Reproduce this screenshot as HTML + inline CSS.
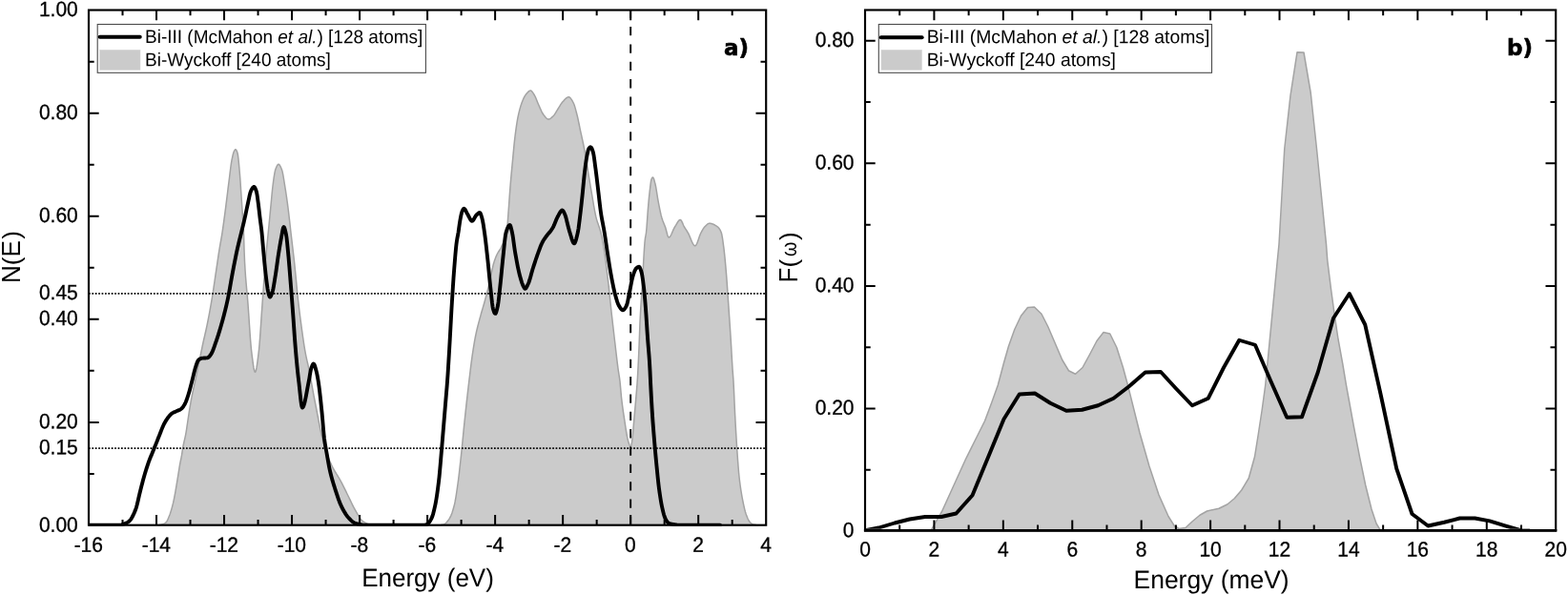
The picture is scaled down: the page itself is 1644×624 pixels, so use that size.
<!DOCTYPE html>
<html lang="en">
<head>
<meta charset="utf-8">
<title>Electronic and vibrational densities of states: Bi-III vs Bi-Wyckoff</title>
<style>
html,body{margin:0;padding:0;background:#fff;}
body{width:1644px;height:624px;overflow:hidden;font-family:"Liberation Sans",Arial,sans-serif;}
svg{display:block;}
svg text{fill:#000;}
</style>
</head>
<body>
<svg width="1644" height="624" viewBox="0 0 1644 624" role="img" aria-label="Density of states plots">
<rect width="1644" height="624" fill="#fff"/>
<defs><clipPath id="clipL"><rect x="93" y="10.55" width="710.2" height="541.2"/></clipPath><clipPath id="clipR"><rect x="907" y="10.5" width="724.2" height="544.35"/></clipPath></defs>
<!-- left plot -->
<path d="M166,550.75 L166.5,550.69 L167,550.6 L167.5,550.51 L168,550.4 L168.5,550.27 L169,550.14 L169.5,550 L170,549.85 L170.5,549.7 L171,549.53 L171.5,549.34 L172,549.12 L172.5,548.88 L173,548.6 L173.5,548.29 L174,547.92 L174.5,547.37 L175,546.61 L175.5,545.67 L176,544.59 L176.5,543.42 L177,542.19 L177.5,540.95 L178,539.67 L178.5,538.28 L179,536.77 L179.5,535.15 L180,533.42 L180.5,531.6 L181,529.69 L181.5,527.69 L182,525.48 L182.5,523.05 L183,520.47 L183.5,517.78 L184,515.05 L184.5,512.19 L185,509.19 L185.5,506.12 L186,503.03 L186.5,500 L187,496.92 L187.5,493.8 L188,490.71 L188.5,487.74 L189,484.97 L189.5,482.5 L190,480.1 L190.5,477.42 L191,474.16 L191.5,470.8 L192,467.93 L192.5,465.49 L193,463.27 L193.5,461.14 L194,458.95 L194.5,456.57 L195,453.87 L195.5,450.78 L196,447.44 L196.5,444.01 L197,440.65 L197.5,437.4 L198,434.14 L198.5,430.91 L199,427.79 L199.5,424.84 L200,422 L200.5,419.25 L201,416.59 L201.5,414.01 L202,411.51 L202.5,409.13 L203,406.83 L203.5,404.57 L204,402.31 L204.5,400 L205,397.65 L205.5,395.28 L206,392.91 L206.5,390.52 L207,388.13 L207.5,385.74 L208,383.33 L208.5,380.93 L209,378.52 L209.5,376.09 L210,373.63 L210.5,371.17 L211,368.72 L211.5,366.28 L212,363.87 L212.5,361.5 L213,359.2 L213.5,356.95 L214,354.76 L214.5,352.58 L215,350.42 L215.5,348.24 L216,346.02 L216.5,343.76 L217,341.42 L217.5,339 L218,336.5 L218.5,333.94 L219,331.33 L219.5,328.66 L220,325.94 L220.5,323.16 L221,320.33 L221.5,317.44 L222,314.5 L222.5,311.5 L223,308.4 L223.5,305.16 L224,301.83 L224.5,298.43 L225,295 L225.5,291.57 L226,288.18 L226.5,284.83 L227,281.44 L227.5,278.04 L228,274.63 L228.5,271.25 L229,267.92 L229.5,264.66 L230,261.5 L230.5,258.5 L231,255.64 L231.5,252.84 L232,250.02 L232.5,247.1 L233,244 L233.5,240.69 L234,237.22 L234.5,233.63 L235,229.94 L235.5,226.19 L236,222.4 L236.5,218.59 L237,214.67 L237.5,210.66 L238,206.59 L238.5,202.5 L239,198.44 L239.5,194.42 L240,190.5 L240.5,186.5 L241,182.34 L241.5,178.22 L242,174.33 L242.5,170.86 L243,168 L243.5,165.55 L244,163.27 L244.5,161.26 L245,159.64 L245.5,158.5 L246,157.67 L246.5,157.01 L247,156.75 L247.5,157.05 L248,157.86 L248.5,159.05 L249,160.5 L249.5,162.99 L250,167.05 L250.5,172.14 L251,177.7 L251.5,183.47 L252,190.36 L252.5,197.94 L253,205.5 L253.5,212.86 L254,220.35 L254.5,228 L255,235.19 L255.5,244 L256,261.4 L256.5,274.01 L257,282.71 L257.5,289.96 L258,296.18 L258.5,301.78 L259,307.18 L259.5,312.78 L260,319 L260.5,325.98 L261,333.39 L261.5,340.94 L262,348.34 L262.5,355.32 L263,361.58 L263.5,366.84 L264,371 L264.5,375.03 L265,378.93 L265.5,382.52 L266,385.63 L266.5,388.08 L267,389.68 L267.5,390.25 L268,389.68 L268.5,388.08 L269,385.63 L269.5,382.52 L270,378.93 L270.5,375.03 L271,371 L271.5,366.84 L272,361.58 L272.5,355.32 L273,348.34 L273.5,340.94 L274,333.39 L274.5,325.98 L275,319 L275.5,312.22 L276,305.27 L276.5,298.28 L277,291.33 L277.5,284.55 L278,278.03 L278.5,271.9 L279,266.24 L279.5,261.05 L280,256.15 L280.5,251.36 L281,246.51 L281.5,241.44 L282,236.24 L282.5,231 L283,225.76 L283.5,220.56 L284,215.4 L284.5,210.03 L285,204.66 L285.5,199.55 L286,194.99 L286.5,191.12 L287,187.44 L287.5,184.03 L288,181.09 L288.5,178.82 L289,177.31 L289.5,175.98 L290,174.78 L290.5,173.75 L291,172.95 L291.5,172.43 L292,172.25 L292.5,172.41 L293,172.87 L293.5,173.58 L294,174.5 L294.5,175.57 L295,176.75 L295.5,178 L296,179.63 L296.5,181.88 L297,184.59 L297.5,187.61 L298,190.78 L298.5,193.96 L299,197.03 L299.5,200.2 L300,203.51 L300.5,206.95 L301,210.52 L301.5,214.2 L302,218 L302.5,222 L303,226.24 L303.5,230.64 L304,235.12 L304.5,239.6 L305,244 L305.5,248.3 L306,252.55 L306.5,256.78 L307,261.03 L307.5,265.32 L308,269.7 L308.5,274.2 L309,278.86 L309.5,283.79 L310,288.91 L310.5,294.13 L311,299.34 L311.5,304.46 L312,309.38 L312.5,314 L313,318.38 L313.5,322.62 L314,326.74 L314.5,330.75 L315,334.65 L315.5,338.46 L316,342.17 L316.5,345.82 L317,349.43 L317.5,353 L318,356.48 L318.5,359.85 L319,363.08 L319.5,366.14 L320,369 L320.5,371.63 L321,374.05 L321.5,376.34 L322,378.55 L322.5,380.73 L323,382.96 L323.5,385.28 L324,387.75 L324.5,390.31 L325,392.94 L325.5,395.62 L326,398.35 L326.5,401.1 L327,403.86 L327.5,406.63 L328,409.38 L328.5,412.11 L329,414.8 L329.5,417.43 L330,420 L330.5,422.55 L331,425.13 L331.5,427.72 L332,430.34 L332.5,432.96 L333,435.57 L333.5,438.18 L334,440.77 L334.5,443.33 L335,445.86 L335.5,448.35 L336,450.78 L336.5,453.16 L337,455.47 L337.5,457.71 L338,459.86 L338.5,461.93 L339,463.9 L339.5,465.75 L340,467.5 L340.5,469.16 L341,470.76 L341.5,472.3 L342,473.8 L342.5,475.24 L343,476.64 L343.5,478 L344,479.31 L344.5,480.58 L345,481.82 L345.5,483.01 L346,484.18 L346.5,485.31 L347,486.42 L347.5,487.5 L348,488.55 L348.5,489.55 L349,490.52 L349.5,491.45 L350,492.36 L350.5,493.24 L351,494.1 L351.5,494.94 L352,495.76 L352.5,496.58 L353,497.39 L353.5,498.19 L354,499 L354.5,499.81 L355,500.63 L355.5,501.47 L356,502.32 L356.5,503.19 L357,504.08 L357.5,505 L358,505.94 L358.5,506.9 L359,507.88 L359.5,508.86 L360,509.86 L360.5,510.86 L361,511.87 L361.5,512.89 L362,513.91 L362.5,514.93 L363,515.95 L363.5,516.97 L364,517.99 L364.5,519 L365,520 L365.5,521.01 L366,522.03 L366.5,523.07 L367,524.11 L367.5,525.16 L368,526.21 L368.5,527.25 L369,528.28 L369.5,529.31 L370,530.32 L370.5,531.31 L371,532.27 L371.5,533.21 L372,534.12 L372.5,535 L373,535.87 L373.5,536.75 L374,537.64 L374.5,538.52 L375,539.4 L375.5,540.27 L376,541.12 L376.5,541.93 L377,542.71 L377.5,543.45 L378,544.14 L378.5,544.77 L379,545.34 L379.5,545.83 L380,546.25 L380.5,546.62 L381,546.97 L381.5,547.3 L382,547.62 L382.5,547.92 L383,548.21 L383.5,548.48 L384,548.73 L384.5,548.96 L385,549.18 L385.5,549.38 L386,549.56 L386.5,549.72 L387,549.87 L387.5,550 L388,550.12 L388.5,550.24 L389,550.35 L389.5,550.46 L390,550.56 L390.5,550.64 L391,550.7 L391.5,550.74 L392,550.75 L392.5,550.75 L393,550.75 L393.5,550.75 L394,550.75 L394.5,550.75 L395,550.75 L395.5,550.75 L396,550.75 L396.5,550.75 L397,550.75 L397.5,550.75 L398,550.75 L398.5,550.75 L399,550.75 L399.5,550.75 L400,550.75 L400.5,550.75 L401,550.75 L401.5,550.75 L402,550.75 L402.5,550.75 L403,550.75 L403.5,550.75 L404,550.75 L404.5,550.75 L405,550.75 L405.5,550.75 L406,550.75 L406.5,550.75 L407,550.75 L407.5,550.75 L408,550.75 L408.5,550.75 L409,550.75 L409.5,550.75 L410,550.75 L410.5,550.75 L411,550.75 L411.5,550.75 L412,550.75 L412.5,550.75 L413,550.75 L413.5,550.75 L414,550.75 L414.5,550.75 L415,550.75 L415.5,550.75 L416,550.75 L416.5,550.75 L417,550.75 L417.5,550.75 L418,550.75 L418.5,550.75 L419,550.75 L419.5,550.75 L420,550.75 L420.5,550.75 L421,550.75 L421.5,550.75 L422,550.75 L422.5,550.75 L423,550.75 L423.5,550.75 L424,550.75 L424.5,550.75 L425,550.75 L425.5,550.75 L426,550.75 L426.5,550.75 L427,550.75 L427.5,550.75 L428,550.75 L428.5,550.75 L429,550.75 L429.5,550.75 L430,550.75 L430.5,550.75 L431,550.75 L431.5,550.75 L432,550.75 L432.5,550.75 L433,550.75 L433.5,550.75 L434,550.75 L434.5,550.75 L435,550.75 L435.5,550.75 L436,550.75 L436.5,550.75 L437,550.75 L437.5,550.75 L438,550.75 L438.5,550.75 L439,550.75 L439.5,550.75 L440,550.75 L440.5,550.75 L441,550.75 L441.5,550.75 L442,550.75 L442.5,550.75 L443,550.75 L443.5,550.75 L444,550.75 L444.5,550.75 L445,550.75 L445.5,550.75 L446,550.75 L446.5,550.75 L447,550.75 L447.5,550.75 L448,550.75 L448.5,550.75 L449,550.75 L449.5,550.75 L450,550.75 L450.5,550.75 L451,550.75 L451.5,550.75 L452,550.75 L452.5,550.75 L453,550.75 L453.5,550.75 L454,550.75 L454.5,550.75 L455,550.75 L455.5,550.75 L456,550.75 L456.5,550.75 L457,550.75 L457.5,550.75 L458,550.75 L458.5,550.75 L459,550.75 L459.5,550.75 L460,550.75 L460.5,550.74 L461,550.71 L461.5,550.67 L462,550.61 L462.5,550.53 L463,550.45 L463.5,550.35 L464,550.24 L464.5,550.12 L465,550 L465.5,549.83 L466,549.59 L466.5,549.28 L467,548.9 L467.5,548.47 L468,547.97 L468.5,547.43 L469,546.84 L469.5,546.21 L470,545.54 L470.5,544.85 L471,544.12 L471.5,543.36 L472,542.47 L472.5,541.45 L473,540.3 L473.5,539.03 L474,537.63 L474.5,536.12 L475,534.5 L475.5,532.77 L476,530.95 L476.5,528.99 L477,526.67 L477.5,524 L478,521.05 L478.5,517.87 L479,514.51 L479.5,511.03 L480,507.5 L480.5,503.8 L481,499.8 L481.5,495.58 L482,491.17 L482.5,486.62 L483,481.99 L483.5,477.33 L484,472.64 L484.5,467.75 L485,462.7 L485.5,457.57 L486,452.44 L486.5,447.39 L487,442.5 L487.5,437.76 L488,433.08 L488.5,428.48 L489,423.93 L489.5,419.44 L490,415 L490.5,410.62 L491,406.32 L491.5,402.09 L492,397.92 L492.5,393.72 L493,389.52 L493.5,385.4 L494,381.4 L494.5,377.58 L495,374 L495.5,370.6 L496,367.3 L496.5,364.11 L497,361.04 L497.5,358.11 L498,355.34 L498.5,352.74 L499,350.31 L499.5,348.02 L500,345.84 L500.5,343.77 L501,341.78 L501.5,339.85 L502,337.97 L502.5,336.11 L503,334.27 L503.5,332.43 L504,330.58 L504.5,328.77 L505,327.02 L505.5,325.3 L506,323.6 L506.5,321.9 L507,320.2 L507.5,318.48 L508,316.73 L508.5,314.92 L509,313.06 L509.5,311.18 L510,309.26 L510.5,307.33 L511,305.36 L511.5,303.37 L512,301.35 L512.5,299.29 L513,297.2 L513.5,295.08 L514,292.89 L514.5,290.51 L515,288 L515.5,285.45 L516,282.94 L516.5,280.55 L517,278.38 L517.5,276.5 L518,274.86 L518.5,273.32 L519,271.89 L519.5,270.54 L520,269.29 L520.5,268.12 L521,267.02 L521.5,266 L522,265.1 L522.5,264.28 L523,263.51 L523.5,262.76 L524,261.99 L524.5,261.17 L525,260.25 L525.5,259.25 L526,258.19 L526.5,257.07 L527,255.91 L527.5,254.7 L528,253.45 L528.5,252.16 L529,250.87 L529.5,249.69 L530,248.48 L530.5,247.03 L531,245.16 L531.5,242.31 L532,236.87 L532.5,229.92 L533,223 L533.5,216.25 L534,209.12 L534.5,202.05 L535,195.5 L535.5,189.55 L536,183.92 L536.5,178.51 L537,173.23 L537.5,168 L538,162.69 L538.5,157.36 L539,152.18 L539.5,147.34 L540,143 L540.5,139.06 L541,135.32 L541.5,131.81 L542,128.56 L542.5,125.61 L543,123 L543.5,120.64 L544,118.42 L544.5,116.34 L545,114.4 L545.5,112.6 L546,110.93 L546.5,109.4 L547,108 L547.5,106.69 L548,105.43 L548.5,104.24 L549,103.12 L549.5,102.09 L550,101.14 L550.5,100.3 L551,99.57 L551.5,98.94 L552,98.33 L552.5,97.73 L553,97.15 L553.5,96.61 L554,96.13 L554.5,95.71 L555,95.38 L555.5,95.14 L556,95.02 L556.5,95.03 L557,95.26 L557.5,95.69 L558,96.27 L558.5,96.95 L559,97.71 L559.5,98.49 L560,99.25 L560.5,100.07 L561,101.03 L561.5,102.1 L562,103.26 L562.5,104.48 L563,105.73 L563.5,106.98 L564,108.21 L564.5,109.39 L565,110.5 L565.5,111.58 L566,112.7 L566.5,113.83 L567,114.95 L567.5,116.05 L568,117.1 L568.5,118.09 L569,119 L569.5,119.81 L570,120.5 L570.5,121.13 L571,121.76 L571.5,122.38 L572,122.98 L572.5,123.53 L573,124.01 L573.5,124.42 L574,124.73 L574.5,124.93 L575,125 L575.5,124.95 L576,124.81 L576.5,124.58 L577,124.29 L577.5,123.94 L578,123.55 L578.5,123.12 L579,122.67 L579.5,122.21 L580,121.75 L580.5,121.24 L581,120.63 L581.5,119.94 L582,119.18 L582.5,118.37 L583,117.53 L583.5,116.69 L584,115.84 L584.5,115.03 L585,114.25 L585.5,113.48 L586,112.68 L586.5,111.86 L587,111.04 L587.5,110.22 L588,109.43 L588.5,108.67 L589,107.97 L589.5,107.32 L590,106.75 L590.5,106.21 L591,105.66 L591.5,105.11 L592,104.57 L592.5,104.04 L593,103.54 L593.5,103.09 L594,102.68 L594.5,102.33 L595,102.06 L595.5,101.87 L596,101.76 L596.5,101.77 L597,101.95 L597.5,102.29 L598,102.77 L598.5,103.37 L599,104.08 L599.5,104.87 L600,105.72 L600.5,106.61 L601,107.54 L601.5,108.5 L602,109.73 L602.5,111.19 L603,112.86 L603.5,114.67 L604,116.58 L604.5,118.54 L605,120.5 L605.5,122.54 L606,124.75 L606.5,127.08 L607,129.49 L607.5,131.95 L608,134.41 L608.5,136.82 L609,139.16 L609.5,141.43 L610,143.67 L610.5,145.91 L611,148.19 L611.5,150.52 L612,152.95 L612.5,155.5 L613,158.22 L613.5,161.1 L614,164.09 L614.5,167.17 L615,170.29 L615.5,173.41 L616,176.49 L616.5,179.5 L617,182.53 L617.5,185.57 L618,188.61 L618.5,191.63 L619,194.63 L619.5,197.59 L620,200.5 L620.5,203.42 L621,206.39 L621.5,209.39 L622,212.38 L622.5,215.32 L623,218.17 L623.5,220.9 L624,223.47 L624.5,225.85 L625,228 L625.5,229.9 L626,231.61 L626.5,233.15 L627,234.6 L627.5,236 L628,237.4 L628.5,238.84 L629,240.39 L629.5,242.09 L630,244 L630.5,246.12 L631,248.43 L631.5,250.92 L632,253.58 L632.5,256.38 L633,259.33 L633.5,262.41 L634,265.64 L634.5,269.16 L635,272.94 L635.5,276.94 L636,281.09 L636.5,285.36 L637,289.68 L637.5,294 L638,298.42 L638.5,303.01 L639,307.74 L639.5,312.53 L640,317.33 L640.5,322.08 L641,326.73 L641.5,331.24 L642,335.68 L642.5,340.06 L643,344.4 L643.5,348.71 L644,352.99 L644.5,357.25 L645,361.5 L645.5,365.79 L646,370.11 L646.5,374.41 L647,378.61 L647.5,382.67 L648,386.5 L648.5,389.9 L649,393 L649.5,396.22 L650,400 L650.5,405.09 L651,411.06 L651.5,416.57 L652,420.94 L652.5,424.9 L653,428.58 L653.5,432.05 L654,435.39 L654.5,438.68 L655,442 L655.5,445.39 L656,448.74 L656.5,451.98 L657,454.99 L657.5,457.7 L658,460 L658.5,461.97 L659,463.72 L659.5,465.24 L660,466.5 L660.5,467.68 L661,468.3 L661.5,467.75 L662,466.5 L662.5,463.9 L663,460 L663.5,455.27 L664,449.53 L664.5,443.49 L665,437.76 L665.5,432.18 L666,426.57 L666.5,420.87 L667,415 L667.5,409.15 L668,402.87 L668.5,395.16 L669,385.86 L669.5,375.5 L670,364.34 L670.5,351.14 L671,338.07 L671.5,327.79 L672,319.66 L672.5,312.55 L673,305.66 L673.5,298.19 L674,289.24 L674.5,278.65 L675,269 L675.5,260.88 L676,254.01 L676.5,249.7 L677,247.07 L677.5,244 L678,238.75 L678.5,231.83 L679,224.49 L679.5,218 L680,212.44 L680.5,207.16 L681,202.29 L681.5,198 L682,193.89 L682.5,190.21 L683,188 L683.5,186.99 L684,186.27 L684.5,186 L685,186.43 L685.5,187.57 L686,189.19 L686.5,191.07 L687,193 L687.5,195.23 L688,198.04 L688.5,201.2 L689,204.48 L689.5,207.66 L690,210.5 L690.5,213.11 L691,215.71 L691.5,218.25 L692,220.7 L692.5,223.02 L693,225.18 L693.5,227.12 L694,228.82 L694.5,230.33 L695,231.7 L695.5,232.97 L696,234.19 L696.5,235.41 L697,236.66 L697.5,238 L698,239.58 L698.5,241.43 L699,243.38 L699.5,245.27 L700,246.92 L700.5,248.19 L701,248.9 L701.5,248.96 L702,248.68 L702.5,248.16 L703,247.42 L703.5,246.52 L704,245.5 L704.5,244.38 L705,243.22 L705.5,242.04 L706,240.89 L706.5,239.81 L707,238.83 L707.5,238 L708,237.22 L708.5,236.38 L709,235.51 L709.5,234.64 L710,233.79 L710.5,232.98 L711,232.25 L711.5,231.61 L712,231.09 L712.5,230.72 L713,230.53 L713.5,230.55 L714,230.94 L714.5,231.63 L715,232.56 L715.5,233.64 L716,234.8 L716.5,235.97 L717,237.06 L717.5,238 L718,238.82 L718.5,239.62 L719,240.41 L719.5,241.19 L720,241.97 L720.5,242.76 L721,243.58 L721.5,244.44 L722,245.42 L722.5,246.49 L723,247.64 L723.5,248.84 L724,250.06 L724.5,251.28 L725,252.46 L725.5,253.6 L726,254.64 L726.5,255.58 L727,256.38 L727.5,257.03 L728,257.48 L728.5,257.72 L729,257.7 L729.5,257.35 L730,256.69 L730.5,255.76 L731,254.63 L731.5,253.35 L732,251.95 L732.5,250.49 L733,249.01 L733.5,247.58 L734,246.23 L734.5,245.02 L735,244 L735.5,243.08 L736,242.17 L736.5,241.27 L737,240.42 L737.5,239.62 L738,238.9 L738.5,238.27 L739,237.74 L739.5,237.21 L740,236.68 L740.5,236.18 L741,235.7 L741.5,235.27 L742,234.89 L742.5,234.59 L743,234.38 L743.5,234.26 L744,234.25 L744.5,234.28 L745,234.35 L745.5,234.43 L746,234.55 L746.5,234.69 L747,234.86 L747.5,235.05 L748,235.27 L748.5,235.5 L749,235.76 L749.5,236.03 L750,236.32 L750.5,236.63 L751,236.95 L751.5,237.29 L752,237.64 L752.5,238 L753,238.41 L753.5,238.93 L754,239.56 L754.5,240.31 L755,241.19 L755.5,242.2 L756,243.36 L756.5,244.78 L757,247.02 L757.5,249.98 L758,253.42 L758.5,257.12 L759,260.96 L759.5,265.32 L760,270.2 L760.5,275.49 L761,281.11 L761.5,287.02 L762,293.57 L762.5,300.62 L763,307.96 L763.5,315.35 L764,322.62 L764.5,329.89 L765,337.26 L765.5,344.78 L766,352.52 L766.5,360.65 L767,369.5 L767.5,378.38 L768,386.5 L768.5,393.07 L769,400 L769.5,409.9 L770,421.57 L770.5,432.5 L771,442.04 L771.5,451.12 L772,459.64 L772.5,467.5 L773,474.96 L773.5,482.18 L774,488.92 L774.5,494.94 L775,500 L775.5,504.31 L776,508.25 L776.5,511.86 L777,515.18 L777.5,518.24 L778,521.08 L778.5,523.73 L779,526.24 L779.5,528.64 L780,530.93 L780.5,533.08 L781,535.08 L781.5,536.91 L782,538.56 L782.5,540 L783,541.31 L783.5,542.55 L784,543.72 L784.5,544.79 L785,545.74 L785.5,546.56 L786,547.23 L786.5,547.75 L787,548.21 L787.5,548.63 L788,549.01 L788.5,549.34 L789,549.62 L789.5,549.84 L790,550 L790.5,550.12 L791,550.24 L791.5,550.35 L792,550.45 L792.5,550.53 L793,550.61 L793.5,550.67 L794,550.71 L794.5,550.74 L795,550.75 L795,550.7 L166,550.7 Z" fill="#cbcbcb" stroke="none"/>
<path d="M166,550.75 L166.5,550.69 L167,550.6 L167.5,550.51 L168,550.4 L168.5,550.27 L169,550.14 L169.5,550 L170,549.85 L170.5,549.7 L171,549.53 L171.5,549.34 L172,549.12 L172.5,548.88 L173,548.6 L173.5,548.29 L174,547.92 L174.5,547.37 L175,546.61 L175.5,545.67 L176,544.59 L176.5,543.42 L177,542.19 L177.5,540.95 L178,539.67 L178.5,538.28 L179,536.77 L179.5,535.15 L180,533.42 L180.5,531.6 L181,529.69 L181.5,527.69 L182,525.48 L182.5,523.05 L183,520.47 L183.5,517.78 L184,515.05 L184.5,512.19 L185,509.19 L185.5,506.12 L186,503.03 L186.5,500 L187,496.92 L187.5,493.8 L188,490.71 L188.5,487.74 L189,484.97 L189.5,482.5 L190,480.1 L190.5,477.42 L191,474.16 L191.5,470.8 L192,467.93 L192.5,465.49 L193,463.27 L193.5,461.14 L194,458.95 L194.5,456.57 L195,453.87 L195.5,450.78 L196,447.44 L196.5,444.01 L197,440.65 L197.5,437.4 L198,434.14 L198.5,430.91 L199,427.79 L199.5,424.84 L200,422 L200.5,419.25 L201,416.59 L201.5,414.01 L202,411.51 L202.5,409.13 L203,406.83 L203.5,404.57 L204,402.31 L204.5,400 L205,397.65 L205.5,395.28 L206,392.91 L206.5,390.52 L207,388.13 L207.5,385.74 L208,383.33 L208.5,380.93 L209,378.52 L209.5,376.09 L210,373.63 L210.5,371.17 L211,368.72 L211.5,366.28 L212,363.87 L212.5,361.5 L213,359.2 L213.5,356.95 L214,354.76 L214.5,352.58 L215,350.42 L215.5,348.24 L216,346.02 L216.5,343.76 L217,341.42 L217.5,339 L218,336.5 L218.5,333.94 L219,331.33 L219.5,328.66 L220,325.94 L220.5,323.16 L221,320.33 L221.5,317.44 L222,314.5 L222.5,311.5 L223,308.4 L223.5,305.16 L224,301.83 L224.5,298.43 L225,295 L225.5,291.57 L226,288.18 L226.5,284.83 L227,281.44 L227.5,278.04 L228,274.63 L228.5,271.25 L229,267.92 L229.5,264.66 L230,261.5 L230.5,258.5 L231,255.64 L231.5,252.84 L232,250.02 L232.5,247.1 L233,244 L233.5,240.69 L234,237.22 L234.5,233.63 L235,229.94 L235.5,226.19 L236,222.4 L236.5,218.59 L237,214.67 L237.5,210.66 L238,206.59 L238.5,202.5 L239,198.44 L239.5,194.42 L240,190.5 L240.5,186.5 L241,182.34 L241.5,178.22 L242,174.33 L242.5,170.86 L243,168 L243.5,165.55 L244,163.27 L244.5,161.26 L245,159.64 L245.5,158.5 L246,157.67 L246.5,157.01 L247,156.75 L247.5,157.05 L248,157.86 L248.5,159.05 L249,160.5 L249.5,162.99 L250,167.05 L250.5,172.14 L251,177.7 L251.5,183.47 L252,190.36 L252.5,197.94 L253,205.5 L253.5,212.86 L254,220.35 L254.5,228 L255,235.19 L255.5,244 L256,261.4 L256.5,274.01 L257,282.71 L257.5,289.96 L258,296.18 L258.5,301.78 L259,307.18 L259.5,312.78 L260,319 L260.5,325.98 L261,333.39 L261.5,340.94 L262,348.34 L262.5,355.32 L263,361.58 L263.5,366.84 L264,371 L264.5,375.03 L265,378.93 L265.5,382.52 L266,385.63 L266.5,388.08 L267,389.68 L267.5,390.25 L268,389.68 L268.5,388.08 L269,385.63 L269.5,382.52 L270,378.93 L270.5,375.03 L271,371 L271.5,366.84 L272,361.58 L272.5,355.32 L273,348.34 L273.5,340.94 L274,333.39 L274.5,325.98 L275,319 L275.5,312.22 L276,305.27 L276.5,298.28 L277,291.33 L277.5,284.55 L278,278.03 L278.5,271.9 L279,266.24 L279.5,261.05 L280,256.15 L280.5,251.36 L281,246.51 L281.5,241.44 L282,236.24 L282.5,231 L283,225.76 L283.5,220.56 L284,215.4 L284.5,210.03 L285,204.66 L285.5,199.55 L286,194.99 L286.5,191.12 L287,187.44 L287.5,184.03 L288,181.09 L288.5,178.82 L289,177.31 L289.5,175.98 L290,174.78 L290.5,173.75 L291,172.95 L291.5,172.43 L292,172.25 L292.5,172.41 L293,172.87 L293.5,173.58 L294,174.5 L294.5,175.57 L295,176.75 L295.5,178 L296,179.63 L296.5,181.88 L297,184.59 L297.5,187.61 L298,190.78 L298.5,193.96 L299,197.03 L299.5,200.2 L300,203.51 L300.5,206.95 L301,210.52 L301.5,214.2 L302,218 L302.5,222 L303,226.24 L303.5,230.64 L304,235.12 L304.5,239.6 L305,244 L305.5,248.3 L306,252.55 L306.5,256.78 L307,261.03 L307.5,265.32 L308,269.7 L308.5,274.2 L309,278.86 L309.5,283.79 L310,288.91 L310.5,294.13 L311,299.34 L311.5,304.46 L312,309.38 L312.5,314 L313,318.38 L313.5,322.62 L314,326.74 L314.5,330.75 L315,334.65 L315.5,338.46 L316,342.17 L316.5,345.82 L317,349.43 L317.5,353 L318,356.48 L318.5,359.85 L319,363.08 L319.5,366.14 L320,369 L320.5,371.63 L321,374.05 L321.5,376.34 L322,378.55 L322.5,380.73 L323,382.96 L323.5,385.28 L324,387.75 L324.5,390.31 L325,392.94 L325.5,395.62 L326,398.35 L326.5,401.1 L327,403.86 L327.5,406.63 L328,409.38 L328.5,412.11 L329,414.8 L329.5,417.43 L330,420 L330.5,422.55 L331,425.13 L331.5,427.72 L332,430.34 L332.5,432.96 L333,435.57 L333.5,438.18 L334,440.77 L334.5,443.33 L335,445.86 L335.5,448.35 L336,450.78 L336.5,453.16 L337,455.47 L337.5,457.71 L338,459.86 L338.5,461.93 L339,463.9 L339.5,465.75 L340,467.5 L340.5,469.16 L341,470.76 L341.5,472.3 L342,473.8 L342.5,475.24 L343,476.64 L343.5,478 L344,479.31 L344.5,480.58 L345,481.82 L345.5,483.01 L346,484.18 L346.5,485.31 L347,486.42 L347.5,487.5 L348,488.55 L348.5,489.55 L349,490.52 L349.5,491.45 L350,492.36 L350.5,493.24 L351,494.1 L351.5,494.94 L352,495.76 L352.5,496.58 L353,497.39 L353.5,498.19 L354,499 L354.5,499.81 L355,500.63 L355.5,501.47 L356,502.32 L356.5,503.19 L357,504.08 L357.5,505 L358,505.94 L358.5,506.9 L359,507.88 L359.5,508.86 L360,509.86 L360.5,510.86 L361,511.87 L361.5,512.89 L362,513.91 L362.5,514.93 L363,515.95 L363.5,516.97 L364,517.99 L364.5,519 L365,520 L365.5,521.01 L366,522.03 L366.5,523.07 L367,524.11 L367.5,525.16 L368,526.21 L368.5,527.25 L369,528.28 L369.5,529.31 L370,530.32 L370.5,531.31 L371,532.27 L371.5,533.21 L372,534.12 L372.5,535 L373,535.87 L373.5,536.75 L374,537.64 L374.5,538.52 L375,539.4 L375.5,540.27 L376,541.12 L376.5,541.93 L377,542.71 L377.5,543.45 L378,544.14 L378.5,544.77 L379,545.34 L379.5,545.83 L380,546.25 L380.5,546.62 L381,546.97 L381.5,547.3 L382,547.62 L382.5,547.92 L383,548.21 L383.5,548.48 L384,548.73 L384.5,548.96 L385,549.18 L385.5,549.38 L386,549.56 L386.5,549.72 L387,549.87 L387.5,550 L388,550.12 L388.5,550.24 L389,550.35 L389.5,550.46 L390,550.56 L390.5,550.64 L391,550.7 L391.5,550.74 L392,550.75 L392.5,550.75 L393,550.75 L393.5,550.75 L394,550.75 L394.5,550.75 L395,550.75 L395.5,550.75 L396,550.75 L396.5,550.75 L397,550.75 L397.5,550.75 L398,550.75 L398.5,550.75 L399,550.75 L399.5,550.75 L400,550.75 L400.5,550.75 L401,550.75 L401.5,550.75 L402,550.75 L402.5,550.75 L403,550.75 L403.5,550.75 L404,550.75 L404.5,550.75 L405,550.75 L405.5,550.75 L406,550.75 L406.5,550.75 L407,550.75 L407.5,550.75 L408,550.75 L408.5,550.75 L409,550.75 L409.5,550.75 L410,550.75 L410.5,550.75 L411,550.75 L411.5,550.75 L412,550.75 L412.5,550.75 L413,550.75 L413.5,550.75 L414,550.75 L414.5,550.75 L415,550.75 L415.5,550.75 L416,550.75 L416.5,550.75 L417,550.75 L417.5,550.75 L418,550.75 L418.5,550.75 L419,550.75 L419.5,550.75 L420,550.75 L420.5,550.75 L421,550.75 L421.5,550.75 L422,550.75 L422.5,550.75 L423,550.75 L423.5,550.75 L424,550.75 L424.5,550.75 L425,550.75 L425.5,550.75 L426,550.75 L426.5,550.75 L427,550.75 L427.5,550.75 L428,550.75 L428.5,550.75 L429,550.75 L429.5,550.75 L430,550.75 L430.5,550.75 L431,550.75 L431.5,550.75 L432,550.75 L432.5,550.75 L433,550.75 L433.5,550.75 L434,550.75 L434.5,550.75 L435,550.75 L435.5,550.75 L436,550.75 L436.5,550.75 L437,550.75 L437.5,550.75 L438,550.75 L438.5,550.75 L439,550.75 L439.5,550.75 L440,550.75 L440.5,550.75 L441,550.75 L441.5,550.75 L442,550.75 L442.5,550.75 L443,550.75 L443.5,550.75 L444,550.75 L444.5,550.75 L445,550.75 L445.5,550.75 L446,550.75 L446.5,550.75 L447,550.75 L447.5,550.75 L448,550.75 L448.5,550.75 L449,550.75 L449.5,550.75 L450,550.75 L450.5,550.75 L451,550.75 L451.5,550.75 L452,550.75 L452.5,550.75 L453,550.75 L453.5,550.75 L454,550.75 L454.5,550.75 L455,550.75 L455.5,550.75 L456,550.75 L456.5,550.75 L457,550.75 L457.5,550.75 L458,550.75 L458.5,550.75 L459,550.75 L459.5,550.75 L460,550.75 L460.5,550.74 L461,550.71 L461.5,550.67 L462,550.61 L462.5,550.53 L463,550.45 L463.5,550.35 L464,550.24 L464.5,550.12 L465,550 L465.5,549.83 L466,549.59 L466.5,549.28 L467,548.9 L467.5,548.47 L468,547.97 L468.5,547.43 L469,546.84 L469.5,546.21 L470,545.54 L470.5,544.85 L471,544.12 L471.5,543.36 L472,542.47 L472.5,541.45 L473,540.3 L473.5,539.03 L474,537.63 L474.5,536.12 L475,534.5 L475.5,532.77 L476,530.95 L476.5,528.99 L477,526.67 L477.5,524 L478,521.05 L478.5,517.87 L479,514.51 L479.5,511.03 L480,507.5 L480.5,503.8 L481,499.8 L481.5,495.58 L482,491.17 L482.5,486.62 L483,481.99 L483.5,477.33 L484,472.64 L484.5,467.75 L485,462.7 L485.5,457.57 L486,452.44 L486.5,447.39 L487,442.5 L487.5,437.76 L488,433.08 L488.5,428.48 L489,423.93 L489.5,419.44 L490,415 L490.5,410.62 L491,406.32 L491.5,402.09 L492,397.92 L492.5,393.72 L493,389.52 L493.5,385.4 L494,381.4 L494.5,377.58 L495,374 L495.5,370.6 L496,367.3 L496.5,364.11 L497,361.04 L497.5,358.11 L498,355.34 L498.5,352.74 L499,350.31 L499.5,348.02 L500,345.84 L500.5,343.77 L501,341.78 L501.5,339.85 L502,337.97 L502.5,336.11 L503,334.27 L503.5,332.43 L504,330.58 L504.5,328.77 L505,327.02 L505.5,325.3 L506,323.6 L506.5,321.9 L507,320.2 L507.5,318.48 L508,316.73 L508.5,314.92 L509,313.06 L509.5,311.18 L510,309.26 L510.5,307.33 L511,305.36 L511.5,303.37 L512,301.35 L512.5,299.29 L513,297.2 L513.5,295.08 L514,292.89 L514.5,290.51 L515,288 L515.5,285.45 L516,282.94 L516.5,280.55 L517,278.38 L517.5,276.5 L518,274.86 L518.5,273.32 L519,271.89 L519.5,270.54 L520,269.29 L520.5,268.12 L521,267.02 L521.5,266 L522,265.1 L522.5,264.28 L523,263.51 L523.5,262.76 L524,261.99 L524.5,261.17 L525,260.25 L525.5,259.25 L526,258.19 L526.5,257.07 L527,255.91 L527.5,254.7 L528,253.45 L528.5,252.16 L529,250.87 L529.5,249.69 L530,248.48 L530.5,247.03 L531,245.16 L531.5,242.31 L532,236.87 L532.5,229.92 L533,223 L533.5,216.25 L534,209.12 L534.5,202.05 L535,195.5 L535.5,189.55 L536,183.92 L536.5,178.51 L537,173.23 L537.5,168 L538,162.69 L538.5,157.36 L539,152.18 L539.5,147.34 L540,143 L540.5,139.06 L541,135.32 L541.5,131.81 L542,128.56 L542.5,125.61 L543,123 L543.5,120.64 L544,118.42 L544.5,116.34 L545,114.4 L545.5,112.6 L546,110.93 L546.5,109.4 L547,108 L547.5,106.69 L548,105.43 L548.5,104.24 L549,103.12 L549.5,102.09 L550,101.14 L550.5,100.3 L551,99.57 L551.5,98.94 L552,98.33 L552.5,97.73 L553,97.15 L553.5,96.61 L554,96.13 L554.5,95.71 L555,95.38 L555.5,95.14 L556,95.02 L556.5,95.03 L557,95.26 L557.5,95.69 L558,96.27 L558.5,96.95 L559,97.71 L559.5,98.49 L560,99.25 L560.5,100.07 L561,101.03 L561.5,102.1 L562,103.26 L562.5,104.48 L563,105.73 L563.5,106.98 L564,108.21 L564.5,109.39 L565,110.5 L565.5,111.58 L566,112.7 L566.5,113.83 L567,114.95 L567.5,116.05 L568,117.1 L568.5,118.09 L569,119 L569.5,119.81 L570,120.5 L570.5,121.13 L571,121.76 L571.5,122.38 L572,122.98 L572.5,123.53 L573,124.01 L573.5,124.42 L574,124.73 L574.5,124.93 L575,125 L575.5,124.95 L576,124.81 L576.5,124.58 L577,124.29 L577.5,123.94 L578,123.55 L578.5,123.12 L579,122.67 L579.5,122.21 L580,121.75 L580.5,121.24 L581,120.63 L581.5,119.94 L582,119.18 L582.5,118.37 L583,117.53 L583.5,116.69 L584,115.84 L584.5,115.03 L585,114.25 L585.5,113.48 L586,112.68 L586.5,111.86 L587,111.04 L587.5,110.22 L588,109.43 L588.5,108.67 L589,107.97 L589.5,107.32 L590,106.75 L590.5,106.21 L591,105.66 L591.5,105.11 L592,104.57 L592.5,104.04 L593,103.54 L593.5,103.09 L594,102.68 L594.5,102.33 L595,102.06 L595.5,101.87 L596,101.76 L596.5,101.77 L597,101.95 L597.5,102.29 L598,102.77 L598.5,103.37 L599,104.08 L599.5,104.87 L600,105.72 L600.5,106.61 L601,107.54 L601.5,108.5 L602,109.73 L602.5,111.19 L603,112.86 L603.5,114.67 L604,116.58 L604.5,118.54 L605,120.5 L605.5,122.54 L606,124.75 L606.5,127.08 L607,129.49 L607.5,131.95 L608,134.41 L608.5,136.82 L609,139.16 L609.5,141.43 L610,143.67 L610.5,145.91 L611,148.19 L611.5,150.52 L612,152.95 L612.5,155.5 L613,158.22 L613.5,161.1 L614,164.09 L614.5,167.17 L615,170.29 L615.5,173.41 L616,176.49 L616.5,179.5 L617,182.53 L617.5,185.57 L618,188.61 L618.5,191.63 L619,194.63 L619.5,197.59 L620,200.5 L620.5,203.42 L621,206.39 L621.5,209.39 L622,212.38 L622.5,215.32 L623,218.17 L623.5,220.9 L624,223.47 L624.5,225.85 L625,228 L625.5,229.9 L626,231.61 L626.5,233.15 L627,234.6 L627.5,236 L628,237.4 L628.5,238.84 L629,240.39 L629.5,242.09 L630,244 L630.5,246.12 L631,248.43 L631.5,250.92 L632,253.58 L632.5,256.38 L633,259.33 L633.5,262.41 L634,265.64 L634.5,269.16 L635,272.94 L635.5,276.94 L636,281.09 L636.5,285.36 L637,289.68 L637.5,294 L638,298.42 L638.5,303.01 L639,307.74 L639.5,312.53 L640,317.33 L640.5,322.08 L641,326.73 L641.5,331.24 L642,335.68 L642.5,340.06 L643,344.4 L643.5,348.71 L644,352.99 L644.5,357.25 L645,361.5 L645.5,365.79 L646,370.11 L646.5,374.41 L647,378.61 L647.5,382.67 L648,386.5 L648.5,389.9 L649,393 L649.5,396.22 L650,400 L650.5,405.09 L651,411.06 L651.5,416.57 L652,420.94 L652.5,424.9 L653,428.58 L653.5,432.05 L654,435.39 L654.5,438.68 L655,442 L655.5,445.39 L656,448.74 L656.5,451.98 L657,454.99 L657.5,457.7 L658,460 L658.5,461.97 L659,463.72 L659.5,465.24 L660,466.5 L660.5,467.68 L661,468.3 L661.5,467.75 L662,466.5 L662.5,463.9 L663,460 L663.5,455.27 L664,449.53 L664.5,443.49 L665,437.76 L665.5,432.18 L666,426.57 L666.5,420.87 L667,415 L667.5,409.15 L668,402.87 L668.5,395.16 L669,385.86 L669.5,375.5 L670,364.34 L670.5,351.14 L671,338.07 L671.5,327.79 L672,319.66 L672.5,312.55 L673,305.66 L673.5,298.19 L674,289.24 L674.5,278.65 L675,269 L675.5,260.88 L676,254.01 L676.5,249.7 L677,247.07 L677.5,244 L678,238.75 L678.5,231.83 L679,224.49 L679.5,218 L680,212.44 L680.5,207.16 L681,202.29 L681.5,198 L682,193.89 L682.5,190.21 L683,188 L683.5,186.99 L684,186.27 L684.5,186 L685,186.43 L685.5,187.57 L686,189.19 L686.5,191.07 L687,193 L687.5,195.23 L688,198.04 L688.5,201.2 L689,204.48 L689.5,207.66 L690,210.5 L690.5,213.11 L691,215.71 L691.5,218.25 L692,220.7 L692.5,223.02 L693,225.18 L693.5,227.12 L694,228.82 L694.5,230.33 L695,231.7 L695.5,232.97 L696,234.19 L696.5,235.41 L697,236.66 L697.5,238 L698,239.58 L698.5,241.43 L699,243.38 L699.5,245.27 L700,246.92 L700.5,248.19 L701,248.9 L701.5,248.96 L702,248.68 L702.5,248.16 L703,247.42 L703.5,246.52 L704,245.5 L704.5,244.38 L705,243.22 L705.5,242.04 L706,240.89 L706.5,239.81 L707,238.83 L707.5,238 L708,237.22 L708.5,236.38 L709,235.51 L709.5,234.64 L710,233.79 L710.5,232.98 L711,232.25 L711.5,231.61 L712,231.09 L712.5,230.72 L713,230.53 L713.5,230.55 L714,230.94 L714.5,231.63 L715,232.56 L715.5,233.64 L716,234.8 L716.5,235.97 L717,237.06 L717.5,238 L718,238.82 L718.5,239.62 L719,240.41 L719.5,241.19 L720,241.97 L720.5,242.76 L721,243.58 L721.5,244.44 L722,245.42 L722.5,246.49 L723,247.64 L723.5,248.84 L724,250.06 L724.5,251.28 L725,252.46 L725.5,253.6 L726,254.64 L726.5,255.58 L727,256.38 L727.5,257.03 L728,257.48 L728.5,257.72 L729,257.7 L729.5,257.35 L730,256.69 L730.5,255.76 L731,254.63 L731.5,253.35 L732,251.95 L732.5,250.49 L733,249.01 L733.5,247.58 L734,246.23 L734.5,245.02 L735,244 L735.5,243.08 L736,242.17 L736.5,241.27 L737,240.42 L737.5,239.62 L738,238.9 L738.5,238.27 L739,237.74 L739.5,237.21 L740,236.68 L740.5,236.18 L741,235.7 L741.5,235.27 L742,234.89 L742.5,234.59 L743,234.38 L743.5,234.26 L744,234.25 L744.5,234.28 L745,234.35 L745.5,234.43 L746,234.55 L746.5,234.69 L747,234.86 L747.5,235.05 L748,235.27 L748.5,235.5 L749,235.76 L749.5,236.03 L750,236.32 L750.5,236.63 L751,236.95 L751.5,237.29 L752,237.64 L752.5,238 L753,238.41 L753.5,238.93 L754,239.56 L754.5,240.31 L755,241.19 L755.5,242.2 L756,243.36 L756.5,244.78 L757,247.02 L757.5,249.98 L758,253.42 L758.5,257.12 L759,260.96 L759.5,265.32 L760,270.2 L760.5,275.49 L761,281.11 L761.5,287.02 L762,293.57 L762.5,300.62 L763,307.96 L763.5,315.35 L764,322.62 L764.5,329.89 L765,337.26 L765.5,344.78 L766,352.52 L766.5,360.65 L767,369.5 L767.5,378.38 L768,386.5 L768.5,393.07 L769,400 L769.5,409.9 L770,421.57 L770.5,432.5 L771,442.04 L771.5,451.12 L772,459.64 L772.5,467.5 L773,474.96 L773.5,482.18 L774,488.92 L774.5,494.94 L775,500 L775.5,504.31 L776,508.25 L776.5,511.86 L777,515.18 L777.5,518.24 L778,521.08 L778.5,523.73 L779,526.24 L779.5,528.64 L780,530.93 L780.5,533.08 L781,535.08 L781.5,536.91 L782,538.56 L782.5,540 L783,541.31 L783.5,542.55 L784,543.72 L784.5,544.79 L785,545.74 L785.5,546.56 L786,547.23 L786.5,547.75 L787,548.21 L787.5,548.63 L788,549.01 L788.5,549.34 L789,549.62 L789.5,549.84 L790,550 L790.5,550.12 L791,550.24 L791.5,550.35 L792,550.45 L792.5,550.53 L793,550.61 L793.5,550.67 L794,550.71 L794.5,550.74 L795,550.75" fill="none" stroke="#a3a3a3" stroke-width="1.5" stroke-linejoin="round"/>
<line x1="93" y1="307.94" x2="803.2" y2="307.94" stroke="#000" stroke-width="1.7" stroke-dasharray="1.7 1.7"/>
<line x1="93" y1="470.05" x2="803.2" y2="470.05" stroke="#000" stroke-width="1.7" stroke-dasharray="1.7 1.7"/>
<line x1="661.16" y1="10.55" x2="661.16" y2="550.7" stroke="#000" stroke-width="1.9" stroke-dasharray="9.3 9.05" stroke-dashoffset="0.85"/>
<path d="M93,550.75 L93.5,550.75 L94,550.75 L94.5,550.75 L95,550.75 L95.5,550.75 L96,550.75 L96.5,550.75 L97,550.75 L97.5,550.75 L98,550.75 L98.5,550.75 L99,550.75 L99.5,550.75 L100,550.75 L100.5,550.75 L101,550.75 L101.5,550.75 L102,550.75 L102.5,550.75 L103,550.75 L103.5,550.75 L104,550.75 L104.5,550.75 L105,550.75 L105.5,550.75 L106,550.75 L106.5,550.75 L107,550.75 L107.5,550.75 L108,550.75 L108.5,550.75 L109,550.75 L109.5,550.75 L110,550.75 L110.5,550.75 L111,550.75 L111.5,550.75 L112,550.75 L112.5,550.75 L113,550.75 L113.5,550.75 L114,550.75 L114.5,550.75 L115,550.75 L115.5,550.75 L116,550.75 L116.5,550.75 L117,550.75 L117.5,550.75 L118,550.75 L118.5,550.75 L119,550.75 L119.5,550.75 L120,550.75 L120.5,550.75 L121,550.75 L121.5,550.75 L122,550.75 L122.5,550.75 L123,550.75 L123.5,550.75 L124,550.75 L124.5,550.75 L125,550.75 L125.5,550.75 L126,550.75 L126.5,550.71 L127,550.6 L127.5,550.43 L128,550.23 L128.5,550.01 L129,549.8 L129.5,549.6 L130,549.42 L130.5,549.25 L131,549.07 L131.5,548.88 L132,548.67 L132.5,548.45 L133,548.2 L133.5,547.92 L134,547.61 L134.5,547.27 L135,546.89 L135.5,546.47 L136,546 L136.5,545.48 L137,544.85 L137.5,544.11 L138,543.29 L138.5,542.4 L139,541.46 L139.5,540.5 L140,539.5 L140.5,538.45 L141,537.32 L141.5,536.11 L142,534.8 L142.5,533.39 L143,531.83 L143.5,530.03 L144,528.06 L144.5,525.95 L145,523.76 L145.5,521.54 L146,519.34 L146.5,517.21 L147,515.21 L147.5,513.25 L148,511.29 L148.5,509.34 L149,507.4 L149.5,505.49 L150,503.61 L150.5,501.77 L151,499.98 L151.5,498.24 L152,496.55 L152.5,494.89 L153,493.25 L153.5,491.65 L154,490.08 L154.5,488.54 L155,487.04 L155.5,485.59 L156,484.17 L156.5,482.8 L157,481.49 L157.5,480.25 L158,479.06 L158.5,477.88 L159,476.7 L159.5,475.5 L160,474.27 L160.5,473.04 L161,471.81 L161.5,470.58 L162,469.34 L162.5,468.1 L163,466.86 L163.5,465.61 L164,464.35 L164.5,463.1 L165,461.85 L165.5,460.59 L166,459.34 L166.5,458.1 L167,456.85 L167.5,455.57 L168,454.27 L168.5,452.97 L169,451.67 L169.5,450.39 L170,449.14 L170.5,447.93 L171,446.79 L171.5,445.71 L172,444.71 L172.5,443.74 L173,442.82 L173.5,441.95 L174,441.12 L174.5,440.33 L175,439.6 L175.5,438.9 L176,438.2 L176.5,437.52 L177,436.86 L177.5,436.23 L178,435.64 L178.5,435.08 L179,434.58 L179.5,434.13 L180,433.75 L180.5,433.42 L181,433.12 L181.5,432.85 L182,432.61 L182.5,432.37 L183,432.15 L183.5,431.94 L184,431.72 L184.5,431.49 L185,431.25 L185.5,431.01 L186,430.79 L186.5,430.58 L187,430.37 L187.5,430.15 L188,429.93 L188.5,429.68 L189,429.41 L189.5,429.1 L190,428.75 L190.5,428.33 L191,427.82 L191.5,427.23 L192,426.56 L192.5,425.83 L193,425.03 L193.5,424.19 L194,423.28 L194.5,422.23 L195,421.03 L195.5,419.71 L196,418.3 L196.5,416.82 L197,415.29 L197.5,413.75 L198,412.14 L198.5,410.42 L199,408.61 L199.5,406.73 L200,404.82 L200.5,402.88 L201,400.95 L201.5,399.03 L202,397.01 L202.5,394.91 L203,392.79 L203.5,390.71 L204,388.73 L204.5,386.89 L205,385.25 L205.5,383.71 L206,382.18 L206.5,380.74 L207,379.46 L207.5,378.44 L208,377.75 L208.5,377.28 L209,376.85 L209.5,376.49 L210,376.19 L210.5,375.96 L211,375.8 L211.5,375.71 L212,375.65 L212.5,375.61 L213,375.57 L213.5,375.54 L214,375.52 L214.5,375.5 L215,375.48 L215.5,375.45 L216,375.42 L216.5,375.38 L217,375.32 L217.5,375.25 L218,375.09 L218.5,374.78 L219,374.35 L219.5,373.82 L220,373.21 L220.5,372.54 L221,371.85 L221.5,371.13 L222,370.25 L222.5,369.22 L223,368.06 L223.5,366.79 L224,365.44 L224.5,364.03 L225,362.59 L225.5,361.14 L226,359.7 L226.5,358.3 L227,356.86 L227.5,355.4 L228,353.89 L228.5,352.36 L229,350.79 L229.5,349.19 L230,347.56 L230.5,345.91 L231,344.22 L231.5,342.51 L232,340.77 L232.5,339 L233,337.21 L233.5,335.4 L234,333.57 L234.5,331.7 L235,329.8 L235.5,327.85 L236,325.87 L236.5,323.84 L237,321.75 L237.5,319.62 L238,317.42 L238.5,315.16 L239,312.81 L239.5,310.31 L240,307.66 L240.5,304.89 L241,302.05 L241.5,299.17 L242,296.27 L242.5,293.39 L243,290.56 L243.5,287.83 L244,285.19 L244.5,282.57 L245,279.97 L245.5,277.38 L246,274.81 L246.5,272.28 L247,269.79 L247.5,267.35 L248,264.96 L248.5,262.64 L249,260.39 L249.5,258.22 L250,256.12 L250.5,254.07 L251,252.05 L251.5,250.06 L252,248.06 L252.5,246.05 L253,244 L253.5,241.94 L254,239.9 L254.5,237.86 L255,235.81 L255.5,233.72 L256,231.59 L256.5,229.39 L257,227.1 L257.5,224.74 L258,222.35 L258.5,219.95 L259,217.57 L259.5,215.25 L260,213 L260.5,210.69 L261,208.27 L261.5,205.89 L262,203.69 L262.5,201.85 L263,200.5 L263.5,199.46 L264,198.48 L264.5,197.6 L265,196.87 L265.5,196.33 L266,196.04 L266.5,196.06 L267,196.52 L267.5,197.36 L268,198.48 L268.5,199.8 L269,201.38 L269.5,204.02 L270,207.42 L270.5,211.15 L271,214.91 L271.5,219.16 L272,223.65 L272.5,228 L273,231.94 L273.5,235.71 L274,239.62 L274.5,244 L275,249.28 L275.5,255.24 L276,261.21 L276.5,266.68 L277,272.04 L277.5,277.27 L278,282.26 L278.5,286.87 L279,291.07 L279.5,295.18 L280,299.09 L280.5,302.56 L281,305.39 L281.5,307.5 L282,309.44 L282.5,310.91 L283,311.5 L283.5,311.21 L284,310.43 L284.5,309.29 L285,307.94 L285.5,306.5 L286,304.76 L286.5,302.47 L287,299.77 L287.5,296.8 L288,293.67 L288.5,290.53 L289,287.44 L289.5,284.11 L290,280.58 L290.5,276.95 L291,273.32 L291.5,269.8 L292,266.5 L292.5,263.35 L293,260.26 L293.5,257.25 L294,254.35 L294.5,251.59 L295,249 L295.5,246.26 L296,243.33 L296.5,240.67 L297,238.74 L297.5,238 L298,238.45 L298.5,239.66 L299,241.45 L299.5,243.63 L300,246 L300.5,249.2 L301,253.64 L301.5,258.76 L302,264 L302.5,269.4 L303,275.25 L303.5,281.4 L304,287.7 L304.5,294 L305,300.3 L305.5,306.7 L306,313.2 L306.5,319.8 L307,326.5 L307.5,333.47 L308,340.72 L308.5,347.98 L309,355 L309.5,361.5 L310,367.53 L310.5,373.3 L311,378.8 L311.5,384.03 L312,389 L312.5,393.64 L313,397.94 L313.5,402.12 L314,406.76 L314.5,411.64 L315,416.42 L315.5,420.74 L316,424.26 L316.5,426.63 L317,427.5 L317.5,427.23 L318,426.47 L318.5,425.26 L319,423.67 L319.5,421.74 L320,419.55 L320.5,417.13 L321,414.56 L321.5,411.88 L322,409.14 L322.5,406.42 L323,403.76 L323.5,401.21 L324,398.73 L324.5,395.8 L325,392.68 L325.5,389.74 L326,387.36 L326.5,385.77 L327,384.35 L327.5,383.09 L328,382.12 L328.5,381.57 L329,381.6 L329.5,382.33 L330,383.59 L330.5,385.18 L331,386.9 L331.5,388.63 L332,390.64 L332.5,392.99 L333,395.62 L333.5,398.49 L334,401.6 L334.5,405.16 L335,409.13 L335.5,413.43 L336,418 L336.5,422.75 L337,427.61 L337.5,432.5 L338,437.87 L338.5,443.83 L339,449.87 L339.5,455.44 L340,460 L340.5,463.59 L341,466.71 L341.5,469.54 L342,472.25 L342.5,475 L343,477.85 L343.5,480.72 L344,483.56 L344.5,486.34 L345,489.02 L345.5,491.55 L346,493.9 L346.5,496.05 L347,498.08 L347.5,500 L348,501.84 L348.5,503.61 L349,505.31 L349.5,506.96 L350,508.57 L350.5,510.15 L351,511.72 L351.5,513.28 L352,514.84 L352.5,516.4 L353,517.94 L353.5,519.46 L354,520.95 L354.5,522.41 L355,523.82 L355.5,525.18 L356,526.49 L356.5,527.73 L357,528.91 L357.5,530 L358,531.04 L358.5,532.06 L359,533.05 L359.5,534.02 L360,534.96 L360.5,535.87 L361,536.75 L361.5,537.6 L362,538.42 L362.5,539.19 L363,539.94 L363.5,540.64 L364,541.3 L364.5,541.92 L365,542.5 L365.5,543.05 L366,543.6 L366.5,544.13 L367,544.65 L367.5,545.15 L368,545.63 L368.5,546.1 L369,546.54 L369.5,546.95 L370,547.33 L370.5,547.69 L371,548.01 L371.5,548.3 L372,548.54 L372.5,548.75 L373,548.93 L373.5,549.09 L374,549.23 L374.5,549.36 L375,549.48 L375.5,549.59 L376,549.7 L376.5,549.8 L377,549.9 L377.5,550 L378,550.1 L378.5,550.22 L379,550.33 L379.5,550.44 L380,550.54 L380.5,550.62 L381,550.69 L381.5,550.73 L382,550.75 L382.5,550.75 L383,550.75 L383.5,550.75 L384,550.75 L384.5,550.75 L385,550.75 L385.5,550.75 L386,550.75 L386.5,550.75 L387,550.75 L387.5,550.75 L388,550.75 L388.5,550.75 L389,550.75 L389.5,550.75 L390,550.75 L390.5,550.75 L391,550.75 L391.5,550.75 L392,550.75 L392.5,550.75 L393,550.75 L393.5,550.75 L394,550.75 L394.5,550.75 L395,550.75 L395.5,550.75 L396,550.75 L396.5,550.75 L397,550.75 L397.5,550.75 L398,550.75 L398.5,550.75 L399,550.75 L399.5,550.75 L400,550.75 L400.5,550.75 L401,550.75 L401.5,550.75 L402,550.75 L402.5,550.75 L403,550.75 L403.5,550.75 L404,550.75 L404.5,550.75 L405,550.75 L405.5,550.75 L406,550.75 L406.5,550.75 L407,550.75 L407.5,550.75 L408,550.75 L408.5,550.75 L409,550.75 L409.5,550.75 L410,550.75 L410.5,550.75 L411,550.75 L411.5,550.75 L412,550.75 L412.5,550.75 L413,550.75 L413.5,550.75 L414,550.75 L414.5,550.75 L415,550.75 L415.5,550.75 L416,550.75 L416.5,550.75 L417,550.75 L417.5,550.75 L418,550.75 L418.5,550.75 L419,550.75 L419.5,550.75 L420,550.75 L420.5,550.75 L421,550.75 L421.5,550.75 L422,550.75 L422.5,550.75 L423,550.75 L423.5,550.75 L424,550.75 L424.5,550.75 L425,550.75 L425.5,550.75 L426,550.75 L426.5,550.75 L427,550.75 L427.5,550.75 L428,550.75 L428.5,550.75 L429,550.75 L429.5,550.75 L430,550.75 L430.5,550.75 L431,550.75 L431.5,550.75 L432,550.75 L432.5,550.75 L433,550.75 L433.5,550.75 L434,550.75 L434.5,550.75 L435,550.75 L435.5,550.75 L436,550.75 L436.5,550.75 L437,550.75 L437.5,550.75 L438,550.75 L438.5,550.75 L439,550.75 L439.5,550.75 L440,550.75 L440.5,550.75 L441,550.75 L441.5,550.75 L442,550.75 L442.5,550.75 L443,550.75 L443.5,550.75 L444,550.75 L444.5,550.73 L445,550.67 L445.5,550.58 L446,550.47 L446.5,550.33 L447,550.17 L447.5,550 L448,549.76 L448.5,549.41 L449,548.95 L449.5,548.4 L450,547.75 L450.5,547.03 L451,546.23 L451.5,545.37 L452,544.46 L452.5,543.5 L453,542.38 L453.5,541 L454,539.38 L454.5,537.55 L455,535.55 L455.5,533.41 L456,531.16 L456.5,528.79 L457,526.16 L457.5,523.25 L458,520.07 L458.5,516.64 L459,512.98 L459.5,509.09 L460,505 L460.5,500.44 L461,495.27 L461.5,489.67 L462,483.8 L462.5,477.85 L463,472 L463.5,466.16 L464,460.18 L464.5,454.12 L465,448.04 L465.5,442 L466,436 L466.5,430 L467,424 L467.5,418 L468,412.18 L468.5,406.35 L469,400 L469.5,392.81 L470,384.97 L470.5,376.71 L471,368.24 L471.5,359.68 L472,350.64 L472.5,341.32 L473,332.07 L473.5,323.19 L474,314.92 L474.5,306.89 L475,299.1 L475.5,291.69 L476,284.75 L476.5,278.33 L477,272.06 L477.5,266.09 L478,260.65 L478.5,255.98 L479,252.28 L479.5,249.39 L480,246.8 L480.5,244 L481,240.65 L481.5,237.03 L482,233.52 L482.5,230.5 L483,227.85 L483.5,225.36 L484,223.25 L484.5,221.75 L485,220.65 L485.5,219.69 L486,219.01 L486.5,218.75 L487,218.96 L487.5,219.53 L488,220.35 L488.5,221.33 L489,222.38 L489.5,223.38 L490,224.25 L490.5,225.08 L491,226.01 L491.5,227 L492,228 L492.5,228.96 L493,229.85 L493.5,230.61 L494,231.22 L494.5,231.61 L495,231.75 L495.5,231.58 L496,231.12 L496.5,230.44 L497,229.6 L497.5,228.68 L498,227.74 L498.5,226.85 L499,226.08 L499.5,225.5 L500,225.02 L500.5,224.53 L501,224.06 L501.5,223.64 L502,223.31 L502.5,223.08 L503,223 L503.5,223.37 L504,224.36 L504.5,225.79 L505,227.48 L505.5,229.25 L506,231.36 L506.5,234.05 L507,237.17 L507.5,240.54 L508,244 L508.5,247.63 L509,251.56 L509.5,255.75 L510,260.13 L510.5,264.63 L511,269.21 L511.5,273.84 L512,278.78 L512.5,283.95 L513,289.19 L513.5,294.38 L514,299.36 L514.5,304 L515,308.64 L515.5,313.4 L516,317.84 L516.5,321.53 L517,324 L517.5,325.67 L518,327.15 L518.5,328.28 L519,328.91 L519.5,328.89 L520,328.07 L520.5,326.61 L521,324.72 L521.5,322.59 L522,320.26 L522.5,317 L523,312.94 L523.5,308.39 L524,303.64 L524.5,299 L525,294.29 L525.5,289.25 L526,284.04 L526.5,278.82 L527,273.75 L527.5,269 L528,264.22 L528.5,259.22 L529,254.34 L529.5,249.94 L530,246.37 L530.5,244 L531,242.38 L531.5,240.88 L532,239.52 L532.5,238.34 L533,237.36 L533.5,236.63 L534,236.16 L534.5,236 L535,236.49 L535.5,237.79 L536,239.64 L536.5,241.8 L537,244 L537.5,246.57 L538,249.8 L538.5,253.44 L539,257.2 L539.5,260.81 L540,264 L540.5,266.88 L541,269.71 L541.5,272.48 L542,275.19 L542.5,277.8 L543,280.31 L543.5,282.7 L544,284.95 L544.5,287.06 L545,289 L545.5,290.83 L546,292.6 L546.5,294.29 L547,295.88 L547.5,297.33 L548,298.63 L548.5,299.76 L549,300.73 L549.5,301.69 L550,302.44 L550.5,302.75 L551,302.56 L551.5,302.06 L552,301.3 L552.5,300.36 L553,299.33 L553.5,298.27 L554,297.21 L554.5,295.96 L555,294.51 L555.5,292.91 L556,291.19 L556.5,289.4 L557,287.57 L557.5,285.76 L558,283.98 L558.5,282.3 L559,280.72 L559.5,279.16 L560,277.6 L560.5,276.05 L561,274.52 L561.5,273 L562,271.5 L562.5,270.03 L563,268.59 L563.5,267.19 L564,265.82 L564.5,264.44 L565,263.07 L565.5,261.71 L566,260.37 L566.5,259.07 L567,257.82 L567.5,256.63 L568,255.51 L568.5,254.48 L569,253.54 L569.5,252.66 L570,251.82 L570.5,251.03 L571,250.27 L571.5,249.55 L572,248.85 L572.5,248.16 L573,247.5 L573.5,246.83 L574,246.18 L574.5,245.56 L575,244.98 L575.5,244.42 L576,243.85 L576.5,243.27 L577,242.66 L577.5,242 L578,241.29 L578.5,240.53 L579,239.74 L579.5,238.89 L580,238 L580.5,237.02 L581,235.93 L581.5,234.76 L582,233.54 L582.5,232.3 L583,231.06 L583.5,229.86 L584,228.72 L584.5,227.68 L585,226.75 L585.5,225.86 L586,224.93 L586.5,223.99 L587,223.09 L587.5,222.26 L588,221.55 L588.5,220.99 L589,220.63 L589.5,220.5 L590,220.71 L590.5,221.28 L591,222.13 L591.5,223.18 L592,224.33 L592.5,225.5 L593,226.88 L593.5,228.62 L594,230.61 L594.5,232.71 L595,234.8 L595.5,236.75 L596,238.63 L596.5,240.54 L597,242.36 L597.5,244 L598,245.58 L598.5,247.25 L599,248.94 L599.5,250.56 L600,252.06 L600.5,253.34 L601,254.35 L601.5,255.01 L602,255.25 L602.5,254.96 L603,254.13 L603.5,252.86 L604,251.24 L604.5,249.34 L605,247.27 L605.5,245.09 L606,242.78 L606.5,239.72 L607,236.04 L607.5,232.04 L608,228 L608.5,223.88 L609,219.5 L609.5,214.93 L610,210.24 L610.5,205.5 L611,200.53 L611.5,195.27 L612,189.99 L612.5,184.98 L613,180.5 L613.5,176.43 L614,172.53 L614.5,168.92 L615,165.71 L615.5,163 L616,160.58 L616.5,158.34 L617,156.55 L617.5,155.5 L618,154.95 L618.5,154.52 L619,154.28 L619.5,154.32 L620,154.85 L620.5,155.79 L621,157.05 L621.5,158.49 L622,160.16 L622.5,162.75 L623,166.07 L623.5,169.81 L624,173.65 L624.5,177.35 L625,181.25 L625.5,185.35 L626,189.57 L626.5,193.81 L627,198 L627.5,202.25 L628,206.65 L628.5,211.07 L629,215.35 L629.5,219.38 L630,223 L630.5,226.2 L631,229.12 L631.5,231.84 L632,234.46 L632.5,237.05 L633,239.7 L633.5,242.51 L634,245.55 L634.5,248.76 L635,252.11 L635.5,255.53 L636,258.98 L636.5,262.41 L637,265.76 L637.5,269 L638,272.16 L638.5,275.32 L639,278.44 L639.5,281.51 L640,284.5 L640.5,287.4 L641,290.17 L641.5,292.81 L642,295.4 L642.5,297.94 L643,300.4 L643.5,302.76 L644,304.99 L644.5,307.08 L645,309 L645.5,310.82 L646,312.6 L646.5,314.32 L647,315.93 L647.5,317.4 L648,318.7 L648.5,319.79 L649,320.68 L649.5,321.53 L650,322.36 L650.5,323.13 L651,323.82 L651.5,324.41 L652,324.86 L652.5,325.15 L653,325.25 L653.5,325.15 L654,324.85 L654.5,324.38 L655,323.76 L655.5,323.02 L656,322.17 L656.5,321.24 L657,320.25 L657.5,318.85 L658,316.82 L658.5,314.35 L659,311.67 L659.5,308.98 L660,306.5 L660.5,304.09 L661,301.54 L661.5,298.95 L662,296.39 L662.5,293.95 L663,291.74 L663.5,289.82 L664,288.24 L664.5,286.75 L665,285.35 L665.5,284.08 L666,282.98 L666.5,282.11 L667,281.5 L667.5,281.05 L668,280.64 L668.5,280.28 L669,280 L669.5,279.82 L670,279.75 L670.5,280.06 L671,280.9 L671.5,282.13 L672,283.63 L672.5,285.25 L673,287.33 L673.5,290.16 L674,293.57 L674.5,297.41 L675,301.5 L675.5,306.15 L676,311.62 L676.5,317.65 L677,324 L677.5,330.98 L678,338.68 L678.5,346.54 L679,354 L679.5,360.59 L680,366.66 L680.5,372.89 L681,379.95 L681.5,388.95 L682,400 L682.5,409.76 L683,419.09 L683.5,427.74 L684,435.5 L684.5,442.58 L685,449.18 L685.5,455.43 L686,461.44 L686.5,467.35 L687,473.05 L687.5,478.54 L688,483.85 L688.5,488.99 L689,494.05 L689.5,499.09 L690,503.95 L690.5,508.47 L691,512.5 L691.5,516.13 L692,519.58 L692.5,522.81 L693,525.82 L693.5,528.6 L694,531.12 L694.5,533.38 L695,535.55 L695.5,537.6 L696,539.49 L696.5,541.18 L697,542.61 L697.5,543.75 L698,544.69 L698.5,545.58 L699,546.39 L699.5,547.11 L700,547.73 L700.5,548.23 L701,548.6 L701.5,548.83 L702,549.02 L702.5,549.19 L703,549.34 L703.5,549.47 L704,549.59 L704.5,549.7 L705,549.8 L705.5,549.88 L706,549.97 L706.5,550.04 L707,550.12 L707.5,550.2 L708,550.28 L708.5,550.36 L709,550.45 L709.5,550.53 L710,550.6 L710.5,550.66 L711,550.71 L711.5,550.74 L712,550.75 L712.5,550.75 L713,550.75 L713.5,550.75 L714,550.75 L714.5,550.75 L715,550.75 L715.5,550.75 L716,550.75 L716.5,550.75 L717,550.75 L717.5,550.75 L718,550.75 L718.5,550.75 L719,550.75 L719.5,550.75 L720,550.75 L720.5,550.75 L721,550.75 L721.5,550.75 L722,550.75 L722.5,550.75 L723,550.75 L723.5,550.75 L724,550.75 L724.5,550.75 L725,550.75 L725.5,550.75 L726,550.75 L726.5,550.75 L727,550.75 L727.5,550.75 L728,550.75 L728.5,550.75 L729,550.75 L729.5,550.75 L730,550.75 L730.5,550.75 L731,550.75 L731.5,550.75 L732,550.75 L732.5,550.75 L733,550.75 L733.5,550.75 L734,550.75 L734.5,550.75 L735,550.75 L735.5,550.75 L736,550.75 L736.5,550.75 L737,550.75 L737.5,550.75 L738,550.75 L738.5,550.75 L739,550.75 L739.5,550.75 L740,550.75 L740.5,550.75 L741,550.75 L741.5,550.75 L742,550.75 L742.5,550.75 L743,550.75 L743.5,550.75 L744,550.75 L744.5,550.75 L745,550.75 L745.5,550.75 L746,550.75 L746.5,550.75 L747,550.75 L747.5,550.75 L748,550.75 L748.5,550.75 L749,550.75 L749.5,550.75 L750,550.75 L750.5,550.75 L751,550.75 L751.5,550.75 L752,550.75 L752.5,550.75 L753,550.75 L753.5,550.75 L754,550.75 L754.5,550.75 L755,550.75" fill="none" stroke="#000" stroke-width="3.9" stroke-linejoin="round" stroke-linecap="round" clip-path="url(#clipL)"/>
<path d="M164.02,550.7 v-10.7 M164.02,10.55 v10.7 M235.04,550.7 v-10.7 M235.04,10.55 v10.7 M306.06,550.7 v-10.7 M306.06,10.55 v10.7 M377.08,550.7 v-10.7 M377.08,10.55 v10.7 M448.1,550.7 v-10.7 M448.1,10.55 v10.7 M519.12,550.7 v-10.7 M519.12,10.55 v10.7 M590.14,550.7 v-10.7 M590.14,10.55 v10.7 M661.16,550.7 v-10.7 M661.16,10.55 v10.7 M732.18,550.7 v-10.7 M732.18,10.55 v10.7 M128.51,550.7 v-5.7 M128.51,10.55 v5.7 M199.53,550.7 v-5.7 M199.53,10.55 v5.7 M270.55,550.7 v-5.7 M270.55,10.55 v5.7 M341.57,550.7 v-5.7 M341.57,10.55 v5.7 M412.59,550.7 v-5.7 M412.59,10.55 v5.7 M483.61,550.7 v-5.7 M483.61,10.55 v5.7 M554.63,550.7 v-5.7 M554.63,10.55 v5.7 M625.65,550.7 v-5.7 M625.65,10.55 v5.7 M696.67,550.7 v-5.7 M696.67,10.55 v5.7 M767.69,550.7 v-5.7 M767.69,10.55 v5.7 M93,442.88 h10.7 M803.2,442.88 h-10.7 M93,334.81 h10.7 M803.2,334.81 h-10.7 M93,226.74 h10.7 M803.2,226.74 h-10.7 M93,118.67 h10.7 M803.2,118.67 h-10.7 M93,496.92 h5.7 M803.2,496.92 h-5.7 M93,388.85 h5.7 M803.2,388.85 h-5.7 M93,280.78 h5.7 M803.2,280.78 h-5.7 M93,172.71 h5.7 M803.2,172.71 h-5.7 M93,64.63 h5.7 M803.2,64.63 h-5.7" stroke="#000" stroke-width="2.0" fill="none"/>
<rect x="93" y="10.55" width="710.2" height="540.15" fill="none" stroke="#000" stroke-width="2.15"/>
<text transform="translate(92.8,578.7) rotate(0.03) scale(1,1.04)" font-size="21" text-anchor="middle" font-family="'Liberation Sans', Arial, sans-serif" stroke="#000" stroke-width="0.3">-16</text>
<text transform="translate(163.82,578.7) rotate(0.03) scale(1,1.04)" font-size="21" text-anchor="middle" font-family="'Liberation Sans', Arial, sans-serif" stroke="#000" stroke-width="0.3">-14</text>
<text transform="translate(234.84,578.7) rotate(0.03) scale(1,1.04)" font-size="21" text-anchor="middle" font-family="'Liberation Sans', Arial, sans-serif" stroke="#000" stroke-width="0.3">-12</text>
<text transform="translate(305.86,578.7) rotate(0.03) scale(1,1.04)" font-size="21" text-anchor="middle" font-family="'Liberation Sans', Arial, sans-serif" stroke="#000" stroke-width="0.3">-10</text>
<text transform="translate(376.88,578.7) rotate(0.03) scale(1,1.04)" font-size="21" text-anchor="middle" font-family="'Liberation Sans', Arial, sans-serif" stroke="#000" stroke-width="0.3">-8</text>
<text transform="translate(447.9,578.7) rotate(0.03) scale(1,1.04)" font-size="21" text-anchor="middle" font-family="'Liberation Sans', Arial, sans-serif" stroke="#000" stroke-width="0.3">-6</text>
<text transform="translate(518.92,578.7) rotate(0.03) scale(1,1.04)" font-size="21" text-anchor="middle" font-family="'Liberation Sans', Arial, sans-serif" stroke="#000" stroke-width="0.3">-4</text>
<text transform="translate(589.94,578.7) rotate(0.03) scale(1,1.04)" font-size="21" text-anchor="middle" font-family="'Liberation Sans', Arial, sans-serif" stroke="#000" stroke-width="0.3">-2</text>
<text transform="translate(660.96,578.7) rotate(0.03) scale(1,1.04)" font-size="21" text-anchor="middle" font-family="'Liberation Sans', Arial, sans-serif" stroke="#000" stroke-width="0.3">0</text>
<text transform="translate(731.98,578.7) rotate(0.03) scale(1,1.04)" font-size="21" text-anchor="middle" font-family="'Liberation Sans', Arial, sans-serif" stroke="#000" stroke-width="0.3">2</text>
<text transform="translate(803,578.7) rotate(0.03) scale(1,1.04)" font-size="21" text-anchor="middle" font-family="'Liberation Sans', Arial, sans-serif" stroke="#000" stroke-width="0.3">4</text>
<text transform="translate(81.75,557.85) rotate(0.03) scale(1,1.04)" font-size="21" text-anchor="end" font-family="'Liberation Sans', Arial, sans-serif" stroke="#000" stroke-width="0.3">0.00</text>
<text transform="translate(81.75,476.2) rotate(0.03) scale(1,1.04)" font-size="21" text-anchor="end" font-family="'Liberation Sans', Arial, sans-serif" stroke="#000" stroke-width="0.3">0.15</text>
<text transform="translate(81.75,449.18) rotate(0.03) scale(1,1.04)" font-size="21" text-anchor="end" font-family="'Liberation Sans', Arial, sans-serif" stroke="#000" stroke-width="0.3">0.20</text>
<text transform="translate(81.75,341.11) rotate(0.03) scale(1,1.04)" font-size="21" text-anchor="end" font-family="'Liberation Sans', Arial, sans-serif" stroke="#000" stroke-width="0.3">0.40</text>
<text transform="translate(81.75,314.09) rotate(0.03) scale(1,1.04)" font-size="21" text-anchor="end" font-family="'Liberation Sans', Arial, sans-serif" stroke="#000" stroke-width="0.3">0.45</text>
<text transform="translate(81.75,233.04) rotate(0.03) scale(1,1.04)" font-size="21" text-anchor="end" font-family="'Liberation Sans', Arial, sans-serif" stroke="#000" stroke-width="0.3">0.60</text>
<text transform="translate(81.75,124.97) rotate(0.03) scale(1,1.04)" font-size="21" text-anchor="end" font-family="'Liberation Sans', Arial, sans-serif" stroke="#000" stroke-width="0.3">0.80</text>
<text transform="translate(81.75,16.9) rotate(0.03) scale(1,1.04)" font-size="21" text-anchor="end" font-family="'Liberation Sans', Arial, sans-serif" stroke="#000" stroke-width="0.3">1.00</text>
<text transform="translate(448.5,615.1) rotate(0.03) scale(1,1.03)" font-size="26" text-anchor="middle" font-family="'Liberation Sans', Arial, sans-serif">Energy (eV)</text>
<g aria-label="N(E)"><text transform="translate(20.8,297) rotate(-90) scale(1,1.05)" font-size="26" text-anchor="start" font-family="'Liberation Sans', Arial, sans-serif">N</text><text transform="translate(20.8,278.2) rotate(-90)" font-size="26" text-anchor="start" font-family="'Liberation Sans', Arial, sans-serif">(</text><text transform="translate(20.8,269.56) rotate(-90) scale(1,1.05)" font-size="26" text-anchor="start" font-family="'Liberation Sans', Arial, sans-serif">E</text><text transform="translate(20.8,250.7) rotate(-90)" font-size="26" text-anchor="start" font-family="'Liberation Sans', Arial, sans-serif">)</text></g>
<text x="772" y="57.5" font-size="23" font-weight="bold" text-anchor="middle" font-family="'DejaVu Sans', 'Liberation Sans', sans-serif" stroke="#000" stroke-width="0.6">a)</text>
<!-- right plot -->
<path d="M976,556.3 L987.5,536.5 L1000,509 L1012.5,481.5 L1025,456.5 L1032.5,441.5 L1040,421.5 L1046.25,404 L1052.5,380.5 L1057.5,363 L1063.75,345.5 L1070.5,331.25 L1077.5,322.5 L1084.5,322 L1092,329.25 L1098.75,342.5 L1106.25,360 L1113.75,377.5 L1120.5,388.75 L1127.5,392.25 L1135,385.5 L1142.5,371.75 L1150,357.5 L1157,348.5 L1163.75,350 L1170.75,364.25 L1177.5,385.5 L1182.5,404 L1187.5,424 L1195,454 L1205,489 L1215,519 L1225,541.5 L1231.25,551.5 L1236,554.5 L1243,553.5 L1250.5,546.5 L1258,540.25 L1265.5,536 L1278,533.25 L1286.75,529 L1294.25,522.75 L1301.75,514 L1309.25,501.5 L1315.5,479 L1319.5,454 L1323.3,429 L1326.7,404 L1329.7,373 L1333.3,335.5 L1336.9,298 L1339.3,273 L1341,256 L1346.75,156 L1353,100 L1360,54.8 L1367,55 L1374.25,97.5 L1380.5,156 L1390.5,256 L1391.75,273 L1395.5,303 L1399.25,330.5 L1403,355.5 L1408,383 L1411.5,404 L1414.25,419 L1419.25,446.5 L1425.5,479 L1431.75,509 L1438,534 L1443,549 L1446.75,555.25 L1450,556.3 L1450,556.3 L976,556.3 Z" fill="#cbcbcb" stroke="none"/>
<path d="M976,556.3 L987.5,536.5 L1000,509 L1012.5,481.5 L1025,456.5 L1032.5,441.5 L1040,421.5 L1046.25,404 L1052.5,380.5 L1057.5,363 L1063.75,345.5 L1070.5,331.25 L1077.5,322.5 L1084.5,322 L1092,329.25 L1098.75,342.5 L1106.25,360 L1113.75,377.5 L1120.5,388.75 L1127.5,392.25 L1135,385.5 L1142.5,371.75 L1150,357.5 L1157,348.5 L1163.75,350 L1170.75,364.25 L1177.5,385.5 L1182.5,404 L1187.5,424 L1195,454 L1205,489 L1215,519 L1225,541.5 L1231.25,551.5 L1236,554.5 L1243,553.5 L1250.5,546.5 L1258,540.25 L1265.5,536 L1278,533.25 L1286.75,529 L1294.25,522.75 L1301.75,514 L1309.25,501.5 L1315.5,479 L1319.5,454 L1323.3,429 L1326.7,404 L1329.7,373 L1333.3,335.5 L1336.9,298 L1339.3,273 L1341,256 L1346.75,156 L1353,100 L1360,54.8 L1367,55 L1374.25,97.5 L1380.5,156 L1390.5,256 L1391.75,273 L1395.5,303 L1399.25,330.5 L1403,355.5 L1408,383 L1411.5,404 L1414.25,419 L1419.25,446.5 L1425.5,479 L1431.75,509 L1438,534 L1443,549 L1446.75,555.25 L1450,556.3" fill="none" stroke="#a3a3a3" stroke-width="1.5" stroke-linejoin="round"/>
<path d="M906.7,556.3 L921.25,553.5 L938,548.5 L953.75,544.5 L970,542 L987,542 L1002.5,538.5 L1019.5,519.5 L1036.25,479 L1052.5,439.5 L1068.75,413.5 L1085,412.5 L1101.25,422.75 L1118,430.75 L1134.5,429.75 L1151.25,425.25 L1167.5,417.75 L1183.75,405.25 L1200.75,390.5 L1217,390 L1233.5,408 L1250,425.25 L1266.75,417.75 L1283,385.5 L1299.25,356.75 L1316,361.75 L1332.5,400 L1349.25,437.75 L1365,437.25 L1381.75,390.5 L1398,333.75 L1414.75,308 L1431.25,340.5 L1447.75,414.25 L1464.25,491.5 L1480.5,539 L1497.25,551.5 L1514.25,547.75 L1530.5,543.5 L1546.4,543.5 L1561.8,546.3 L1578,551.3 L1594.5,556.2 L1604,556.4" fill="none" stroke="#000" stroke-width="3.9" stroke-linejoin="round" stroke-linecap="butt" clip-path="url(#clipR)"/>
<path d="M979.42,556.3 v-10.7 M979.42,10.5 v10.7 M1051.84,556.3 v-10.7 M1051.84,10.5 v10.7 M1124.26,556.3 v-10.7 M1124.26,10.5 v10.7 M1196.68,556.3 v-10.7 M1196.68,10.5 v10.7 M1269.1,556.3 v-10.7 M1269.1,10.5 v10.7 M1341.52,556.3 v-10.7 M1341.52,10.5 v10.7 M1413.94,556.3 v-10.7 M1413.94,10.5 v10.7 M1486.36,556.3 v-10.7 M1486.36,10.5 v10.7 M1558.78,556.3 v-10.7 M1558.78,10.5 v10.7 M943.21,556.3 v-5.7 M943.21,10.5 v5.7 M1015.63,556.3 v-5.7 M1015.63,10.5 v5.7 M1088.05,556.3 v-5.7 M1088.05,10.5 v5.7 M1160.47,556.3 v-5.7 M1160.47,10.5 v5.7 M1232.89,556.3 v-5.7 M1232.89,10.5 v5.7 M1305.31,556.3 v-5.7 M1305.31,10.5 v5.7 M1377.73,556.3 v-5.7 M1377.73,10.5 v5.7 M1450.15,556.3 v-5.7 M1450.15,10.5 v5.7 M1522.57,556.3 v-5.7 M1522.57,10.5 v5.7 M1594.99,556.3 v-5.7 M1594.99,10.5 v5.7 M907,428.5 h10.7 M1631.2,428.5 h-10.7 M907,299.92 h10.7 M1631.2,299.92 h-10.7 M907,171.34 h10.7 M1631.2,171.34 h-10.7 M907,42.76 h10.7 M1631.2,42.76 h-10.7 M907,492.79 h5.7 M1631.2,492.79 h-5.7 M907,364.21 h5.7 M1631.2,364.21 h-5.7 M907,235.63 h5.7 M1631.2,235.63 h-5.7 M907,107.05 h5.7 M1631.2,107.05 h-5.7" stroke="#000" stroke-width="2.0" fill="none"/>
<rect x="907" y="10.5" width="724.2" height="545.8" fill="none" stroke="#000" stroke-width="2.15"/>
<line x1="905.92" y1="556.4" x2="1632.28" y2="556.4" stroke="#000" stroke-width="2.7"/>
<text transform="translate(907,583.6) rotate(0.03) scale(1,1.04)" font-size="21" text-anchor="middle" font-family="'Liberation Sans', Arial, sans-serif" stroke="#000" stroke-width="0.3">0</text>
<text transform="translate(979.42,583.6) rotate(0.03) scale(1,1.04)" font-size="21" text-anchor="middle" font-family="'Liberation Sans', Arial, sans-serif" stroke="#000" stroke-width="0.3">2</text>
<text transform="translate(1051.84,583.6) rotate(0.03) scale(1,1.04)" font-size="21" text-anchor="middle" font-family="'Liberation Sans', Arial, sans-serif" stroke="#000" stroke-width="0.3">4</text>
<text transform="translate(1124.26,583.6) rotate(0.03) scale(1,1.04)" font-size="21" text-anchor="middle" font-family="'Liberation Sans', Arial, sans-serif" stroke="#000" stroke-width="0.3">6</text>
<text transform="translate(1196.68,583.6) rotate(0.03) scale(1,1.04)" font-size="21" text-anchor="middle" font-family="'Liberation Sans', Arial, sans-serif" stroke="#000" stroke-width="0.3">8</text>
<text transform="translate(1269.1,583.6) rotate(0.03) scale(1,1.04)" font-size="21" text-anchor="middle" font-family="'Liberation Sans', Arial, sans-serif" stroke="#000" stroke-width="0.3">10</text>
<text transform="translate(1341.52,583.6) rotate(0.03) scale(1,1.04)" font-size="21" text-anchor="middle" font-family="'Liberation Sans', Arial, sans-serif" stroke="#000" stroke-width="0.3">12</text>
<text transform="translate(1413.94,583.6) rotate(0.03) scale(1,1.04)" font-size="21" text-anchor="middle" font-family="'Liberation Sans', Arial, sans-serif" stroke="#000" stroke-width="0.3">14</text>
<text transform="translate(1486.36,583.6) rotate(0.03) scale(1,1.04)" font-size="21" text-anchor="middle" font-family="'Liberation Sans', Arial, sans-serif" stroke="#000" stroke-width="0.3">16</text>
<text transform="translate(1558.78,583.6) rotate(0.03) scale(1,1.04)" font-size="21" text-anchor="middle" font-family="'Liberation Sans', Arial, sans-serif" stroke="#000" stroke-width="0.3">18</text>
<text transform="translate(1631.2,583.6) rotate(0.03) scale(1,1.04)" font-size="21" text-anchor="middle" font-family="'Liberation Sans', Arial, sans-serif" stroke="#000" stroke-width="0.3">20</text>
<text transform="translate(895.5,434.8) rotate(0.03) scale(1,1.04)" font-size="21" text-anchor="end" font-family="'Liberation Sans', Arial, sans-serif" stroke="#000" stroke-width="0.3">0.20</text>
<text transform="translate(895.5,306.22) rotate(0.03) scale(1,1.04)" font-size="21" text-anchor="end" font-family="'Liberation Sans', Arial, sans-serif" stroke="#000" stroke-width="0.3">0.40</text>
<text transform="translate(895.5,177.64) rotate(0.03) scale(1,1.04)" font-size="21" text-anchor="end" font-family="'Liberation Sans', Arial, sans-serif" stroke="#000" stroke-width="0.3">0.60</text>
<text transform="translate(895.5,49.06) rotate(0.03) scale(1,1.04)" font-size="21" text-anchor="end" font-family="'Liberation Sans', Arial, sans-serif" stroke="#000" stroke-width="0.3">0.80</text>
<text transform="translate(895.5,563.38) rotate(0.03) scale(1,1.04)" font-size="21" text-anchor="end" font-family="'Liberation Sans', Arial, sans-serif" stroke="#000" stroke-width="0.3">0</text>
<text transform="translate(1270.1,617) rotate(0.03) scale(1.017,1.03)" font-size="26" text-anchor="middle" font-family="'Liberation Sans', Arial, sans-serif">Energy (meV)</text>
<g aria-label="F(ω)"><text transform="translate(836,296.6) rotate(-90) scale(1,1.05)" font-size="26" text-anchor="start" font-family="'Liberation Sans', Arial, sans-serif">F</text><text transform="translate(836,280.55) rotate(-90)" font-size="26" text-anchor="start" font-family="'Liberation Sans', Arial, sans-serif">(</text><text transform="translate(835.1,269.1) rotate(-90) scale(1,1.14)" font-size="19.6" text-anchor="start" font-family="'Liberation Sans', Arial, sans-serif">ω</text><text transform="translate(836,252.05) rotate(-90)" font-size="26" text-anchor="start" font-family="'Liberation Sans', Arial, sans-serif">)</text></g>
<text x="1593.5" y="57.5" font-size="23" font-weight="bold" text-anchor="middle" font-family="'DejaVu Sans', 'Liberation Sans', sans-serif" stroke="#000" stroke-width="0.6">b)</text>
<rect x="102.2" y="25.5" width="344.2" height="50.8" fill="#fff" stroke="#4a4a4a" stroke-width="1.1"/>
<line x1="104.7" y1="38.8" x2="146.7" y2="38.8" stroke="#000" stroke-width="4.1" stroke-linecap="round"/>
<rect x="104.5" y="52.3" width="42.5" height="21" fill="#cbcbcb" stroke="#d8d8d8" stroke-width="0.6"/>
<text transform="translate(152,45.1) rotate(0.03) scale(1,1.04)" font-size="19" text-anchor="start" font-family="'Liberation Sans', Arial, sans-serif">Bi-III (McMahon <tspan font-style="italic">et al.</tspan>) [128 atoms]</text>
<text transform="translate(152,69.2) rotate(0.03) scale(1,1.04)" font-size="19" text-anchor="start" font-family="'Liberation Sans', Arial, sans-serif">Bi-Wyckoff [240 atoms]</text>
<rect x="921.3" y="25.5" width="349.2" height="50.8" fill="#fff" stroke="#4a4a4a" stroke-width="1.1"/>
<line x1="923.8" y1="39.3" x2="966.6" y2="39.3" stroke="#000" stroke-width="4.1" stroke-linecap="round"/>
<rect x="924" y="52.3" width="42.5" height="21" fill="#cbcbcb" stroke="#d8d8d8" stroke-width="0.6"/>
<text transform="translate(971.7,45.1) rotate(0.03) scale(1.018,1.04)" font-size="19" text-anchor="start" font-family="'Liberation Sans', Arial, sans-serif">Bi-III (McMahon <tspan font-style="italic">et al.</tspan>) [128 atoms]</text>
<text transform="translate(971.7,69.2) rotate(0.03) scale(1.018,1.04)" font-size="19" text-anchor="start" font-family="'Liberation Sans', Arial, sans-serif">Bi-Wyckoff [240 atoms]</text>
</svg>
</body>
</html>
